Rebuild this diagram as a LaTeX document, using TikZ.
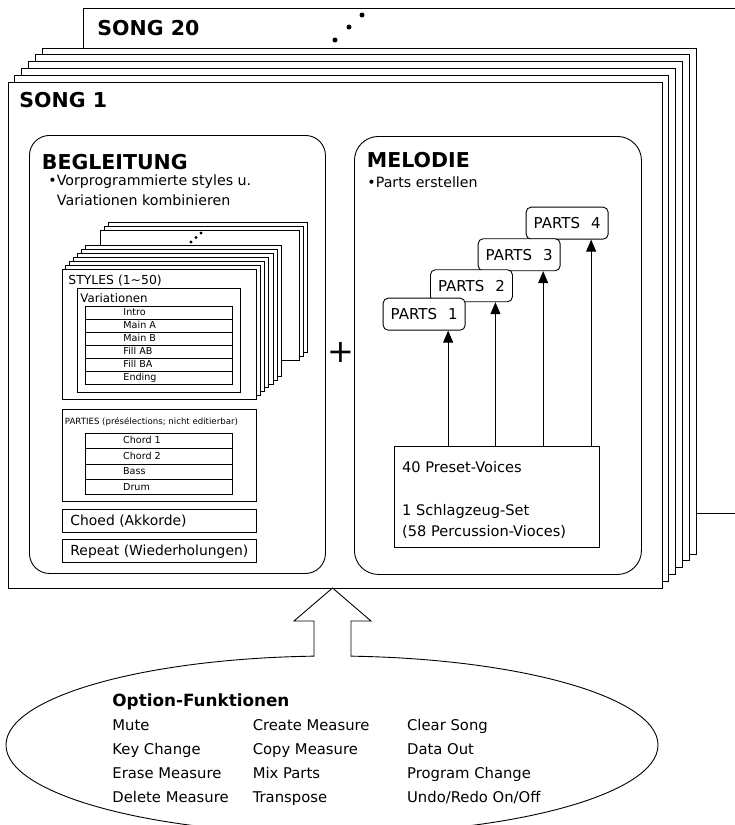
\documentclass[tikz,border=0pt]{standalone}
\usepackage{fontspec}
\setmainfont{DejaVu Sans}
\usetikzlibrary{arrows.meta,shapes.geometric}
\newcommand\myfs[1]{\fontsize{#1}{#1}\selectfont}
\begin{document}
\begin{tikzpicture}[x=1pt,y=-1pt,line width=0.9pt,
  frame/.style={draw,fill=white},
  box/.style={draw,fill=white,anchor=north west,inner sep=0pt},
  txt/.style={anchor=base west,inner sep=0pt},
  title/.style={txt,font=\bfseries\myfs{20.5}},
  rowtxt/.style={txt,font=\myfs{9.6}},
  opt/.style={txt,font=\myfs{14.8}},
  arr/.style={-{Triangle[length=12pt,width=10pt]}}]
\useasboundingbox (0,0) rectangle (735,825);
% ---------- song stack ----------
\node[box,minimum width=700pt,minimum height=505pt] (song20) at (83,8) {};
\node[title] (t20) at (97,35.5) {SONG 20};
\fill (335,40) circle (2.5pt) (349,27) circle (2.5pt) (362,15) circle (2.5pt);
\foreach \k in {5,4,...,1}
  \draw[frame] ({8+6.8*\k},{82-6.8*\k}) rectangle ({662+6.8*\k},{588-6.8*\k});
\node[box,minimum width=654pt,minimum height=506pt] (song1) at (8,82) {};
\node[title] (t1) at (19,107.5) {SONG 1};
% ---------- Begleitung ----------
\node[draw,rounded corners=20pt,anchor=north west,minimum width=296pt,minimum height=438pt] (beg) at (29,135) {};
\node[title] (tbeg) at (41.5,169) {BEGLEITUNG};
\node[txt,font=\myfs{14.2}] (b1) at (48,185) {•Vorprogrammierte styles u.};
\node[txt,font=\myfs{14.2}] (b2) at (56.5,205.5) {Variationen kombinieren};
% styles stack (back)
\foreach \k in {2,1,0}
  \draw[frame] ({100+4*\k},{230.7-4*\k}) rectangle ({299+4*\k},{360.7-4*\k});
\fill (191,242) circle (1.6pt) (196,237.5) circle (1.6pt) (201,233) circle (1.6pt);
\foreach \k in {6,5,...,1}
  \draw[frame] ({62+3.9*\k},{269-4*\k}) rectangle ({256+4.3*\k},{399-3.7*\k});
\node[box,minimum width=194pt,minimum height=130pt] (styles) at (62,269) {};
\node[txt,font=\myfs{12.4}] (tsty) at (68,284) {STYLES (1\textasciitilde 50)};
\node[box,minimum width=163pt,minimum height=104pt] (var) at (77,288) {};
\node[txt,font=\myfs{11.8}] (tvar) at (80,302) {Variationen};
\foreach \t [count=\i from 0] in {Intro,Main A,Main B,Fill AB,Fill BA,Ending}{
  \node[box,minimum width=147pt,minimum height=13.05pt] (vr\i) at (85,{305.7+13.05*\i}) {};
  \node[rowtxt] (vl\i) at (123,{305.7+13.05*\i+10}) {\t};
}
% parties
\node[box,minimum width=194pt,minimum height=92pt] (parties) at (62,409) {};
\node[txt,font=\myfs{8.6}] (tpar) at (64.5,424.8) {PARTIES (présélections; nicht editierbar)};
\foreach \t [count=\i from 0] in {Chord 1,Chord 2,Bass,Drum}{
  \node[box,minimum width=147pt,minimum height=15.4pt] (pr\i) at (85,{432.7+15.4*\i}) {};
  \node[rowtxt] (pl\i) at (122.7,{432.7+15.4*\i+11.2}) {\t};
}
\node[box,minimum width=194pt,minimum height=23pt] (choed) at (62,509) {};
\node[txt,font=\myfs{13.9}] (tchoed) at (70,525.5) {Choed (Akkorde)};
\node[box,minimum width=194pt,minimum height=23pt] (repeat) at (62,539) {};
\node[txt,font=\myfs{13.9}] (trep) at (70,555.5) {Repeat (Wiederholungen)};
% plus
\node[inner sep=0pt,font=\myfs{32}] (plus) at (340.5,352) {+};
% ---------- Melodie ----------
\node[draw,rounded corners=24pt,anchor=north west,minimum width=287pt,minimum height=438pt] (mel) at (354,136) {};
\node[title] (tmel) at (366.5,167.5) {MELODIE};
\node[txt,font=\myfs{14.2}] (m1) at (367,187) {•Parts erstellen};
\foreach \i/\x/\y in {4/525.7/206.7,3/477.7/238.3,2/430/269.3,1/382.7/297.7}
  \node[box,rounded corners=5pt,minimum width=82pt,minimum height=32pt,font=\myfs{15}] (p\i) at (\x,\y) {PARTS\hspace{11pt}\i};
\node[box,minimum width=204.7pt,minimum height=101.3pt] (voices) at (394.3,446) {};
\node[txt,font=\myfs{14.6}] (vt1) at (401.7,472.5) {40 Preset-Voices};
\node[txt,font=\myfs{14.6}] (vt2) at (401.7,515.3) {1 Schlagzeug-Set};
\node[txt,font=\myfs{14.6}] (vt3) at (401.7,536.3) {(58 Percussion-Vioces)};
\foreach \i in {1,2,3,4}{
  \coordinate (a\i) at ([xshift=24pt]p\i.south);
  \draw[arr] (a\i |- voices.north) -- (a\i);
}
% ---------- Option-Funktionen ----------
\node[draw,ellipse,minimum width=652pt,minimum height=178pt,inner sep=0pt] (optell) at (332,745) {};
\coordinate (tip) at (332.5,588);
\fill[white] (314,621) -- (294,621) -- (tip) -- (371,621) -- (351,621) -- (351,668) -- (314,668) -- cycle;
\draw[line join=miter] (314,656.6) -- (314,621) -- (294,621) -- (tip) -- (371,621) -- (351,621) -- (351,656.6);
\node[txt,font=\bfseries\myfs{16.8}] (otitle) at (112,706) {Option-Funktionen};
\foreach \t [count=\i from 0] in {Mute,Key Change,Erase Measure,Delete Measure}
  \node[opt] (c1\i) at (112,{730.4+23.9*\i}) {\t};
\foreach \t [count=\i from 0] in {Create Measure,Copy Measure,Mix Parts,Transpose}
  \node[opt] (c2\i) at (252.3,{730.4+23.9*\i}) {\t};
\foreach \t [count=\i from 0] in {Clear Song,Data Out,Program Change,Undo/Redo On/Off}
  \node[opt] (c3\i) at (406.7,{730.4+23.9*\i}) {\t};
\end{tikzpicture}
\end{document}
